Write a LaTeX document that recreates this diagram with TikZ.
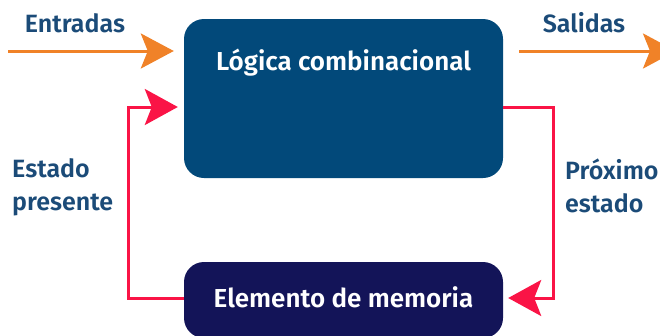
\documentclass[tikz,border=0pt]{standalone}
\usepackage{fontspec}
\setmainfont{Fira Sans}[BoldFont={Fira Sans SemiBold}]
\usetikzlibrary{arrows.meta}
\definecolor{logicblue}{HTML}{02497A}
\definecolor{memnavy}{HTML}{131458}
\definecolor{arroworange}{HTML}{F08228}
\definecolor{loopred}{HTML}{FA1446}
\definecolor{labelblue}{HTML}{1B4B78}
\tikzset{
  box/.style={inner sep=0pt, text=white, font=\fontsize{26}{30}\selectfont\bfseries},
  lbl/.style={text=labelblue, font=\fontsize{25}{30}\selectfont\bfseries, inner sep=0pt},
  flow/.style={draw=arroworange, line width=3pt, -{Stealth[length=33pt,width=35pt,inset=7pt]}},
  loop/.style={draw=loopred, line width=3pt, -{Stealth[length=33pt,width=36pt,inset=7pt]}},
}
\begin{document}
\begin{tikzpicture}[x=1pt,y=-1pt]
\useasboundingbox (0,0) rectangle (660,335);
% boxes
\fill[logicblue, rounded corners=20pt] (184,19) rectangle (503,178);
\node[box, minimum width=319pt, minimum height=159pt] (logic) at (343.5,98.5) {};
\node[box, anchor=base] (logictxt) at (343.5,70) {Lógica combinacional};
\fill[memnavy, rounded corners=20pt] (184,262) rectangle (503,338);
\node[box, minimum width=319pt, minimum height=76pt] (mem) at (343.5,300) {};
\node[box, anchor=base] (memtxt) at (343.5,307) {Elemento de memoria};
% labels
\node[lbl, anchor=base] (ent) at (75,32) {Entradas};
\node[lbl, anchor=base] (sal) at (584,32) {Salidas};
\node[lbl, anchor=base west] (estp1) at (12,177) {Estado};
\node[lbl, anchor=base west] (estp2) at (12,210) {presente};
\node[lbl, anchor=base west] (prox1) at (565,179) {Próximo};
\node[lbl, anchor=base west] (prox2) at (565,212) {estado};
% free ends
\coordinate (inStart) at (8,51);
\coordinate (outEnd) at (676,51);
% arrows
\draw[flow, shorten >=10pt] (inStart) -- (logic.west |- inStart);
\draw[flow, shorten <=16pt] (logic.east |- outEnd) -- (outEnd);
\draw[loop, shorten >=6pt] (mem.west |- 0,298) -- (128,298) -- (128,107) -- (logic.west |- 0,107);
\draw[loop, shorten >=5pt] (logic.east |- 0,107) -- (553,107) -- (553,298) -- (mem.east |- 0,298);
\end{tikzpicture}
\end{document}
